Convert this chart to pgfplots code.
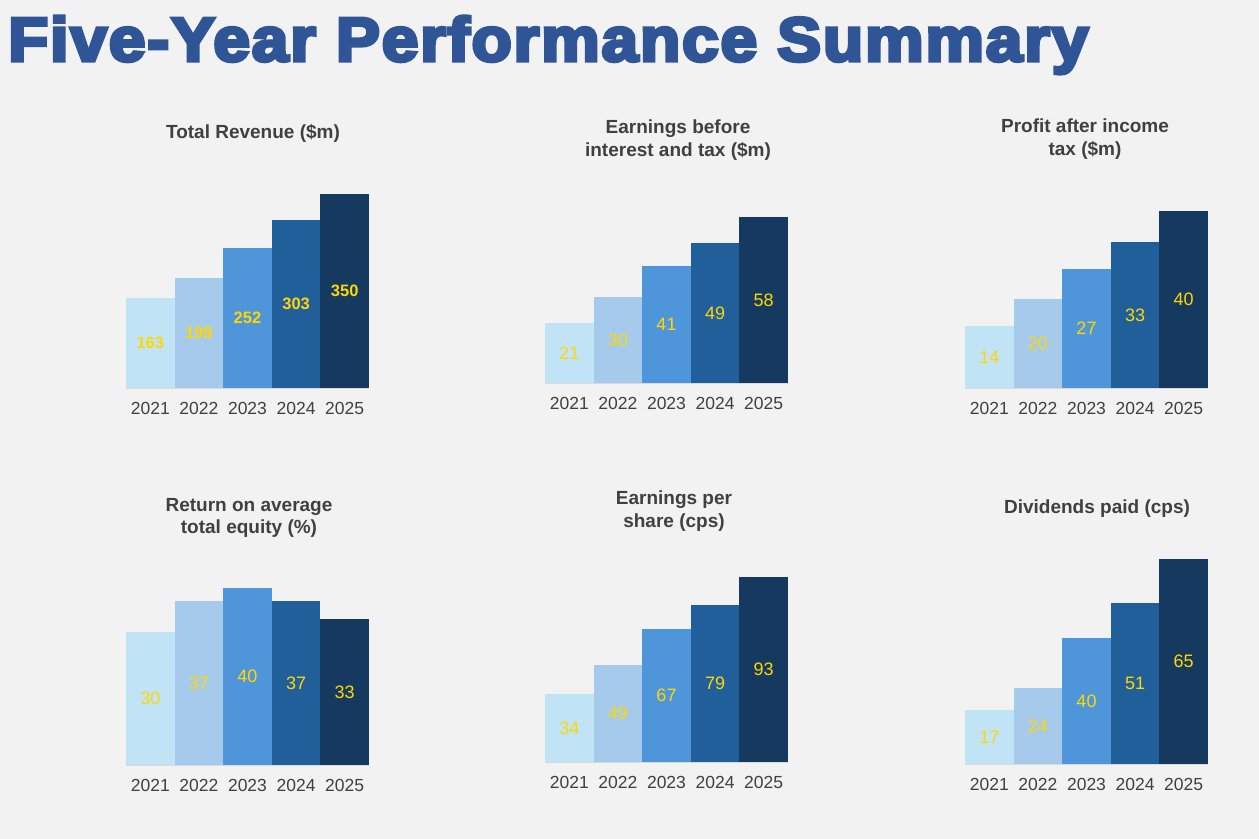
\documentclass[border=0pt]{standalone}
\usepackage{pgfplots}
\pgfplotsset{compat=1.18}
\usepackage{fontspec}
\setmainfont{Liberation Sans}
\newfontfamily\titlefont{Liberation Sans}[BoldFeatures={FakeBold=5.5, LetterSpace=3}]

\definecolor{bg}{HTML}{F2F2F2}
\definecolor{headblue}{HTML}{2F5597}
\definecolor{txtgray}{HTML}{404040}
\definecolor{axisgray}{HTML}{D9D9D9}
\definecolor{gold}{HTML}{FFD700}
\definecolor{c1}{HTML}{C0E4F5}
\definecolor{c2}{HTML}{A6CAEC}
\definecolor{c3}{HTML}{4E95D9}
\definecolor{c4}{HTML}{215F9A}
\definecolor{c5}{HTML}{163A5F}

\pgfplotsset{
  minibar/.style={
    scale only axis, width=243bp,
    anchor=south west,
    ybar, bar width=1,
    xmin=-0.5, xmax=4.5, ymin=0,
    axis x line*=bottom, axis y line=none,
    x axis line style={draw=axisgray, line width=1.5bp},
    xtick={0,1,2,3,4},
    xticklabels={2021,2022,2023,2024,2025},
    major tick length=0pt,
    /pgf/number format/assume math mode=true,
    xticklabel style={font=\fontsize{17.5bp}{20bp}\selectfont, text=txtgray, yshift=-10.5bp},
    every axis plot/.append style={draw=none, bar shift=0pt},
    nodes near coords={\pgfmathprintnumber[assume math mode=true]{\pgfplotspointmeta}},
    visualization depends on=y \as \rawy,
    nodes near coords style={anchor=center, text=gold,
      font=\fontsize{18bp}{20bp}\selectfont,
      shift={(axis direction cs:0,-\rawy/2)}},
  },
}

% one bar per year, each in its own colour
\newcommand{\fivebars}[5]{%
  \addplot[fill=c1] coordinates {(0,#1)};
  \addplot[fill=c2] coordinates {(1,#2)};
  \addplot[fill=c3] coordinates {(2,#3)};
  \addplot[fill=c4] coordinates {(3,#4)};
  \addplot[fill=c5] coordinates {(4,#5)};
}

\tikzset{ctitle/.style={align=center, text=txtgray,
  font=\bfseries\fontsize{19bp}{22.5bp}\selectfont}}

\begin{document}
\begin{tikzpicture}
\path[use as bounding box] (0,0) rectangle (1259bp,839bp);
\fill[bg] (0,0) rectangle (1259bp,839bp);

\node[anchor=base west, inner sep=0, text=headblue] at (8bp,778bp)
  {\resizebox{1080bp}{45bp}{\titlefont\bfseries Five-Year Performance Summary}};

% top row
\begin{axis}[minibar, at={(126bp,451bp)}, height=194bp, ymax=350,
  nodes near coords style={font=\bfseries\fontsize{16.5bp}{20bp}\selectfont}]
\fivebars{163}{199}{252}{303}{350}
\end{axis}
\node[ctitle] at (253bp,706bp) {Total Revenue (\$m)};

\begin{axis}[minibar, at={(545bp,456bp)}, height=166bp, ymax=58]
\fivebars{21}{30}{41}{49}{58}
\end{axis}
\node[ctitle] at (678bp,699bp) {Earnings before\\interest and tax (\$m)};

\begin{axis}[minibar, at={(965bp,451bp)}, height=177bp, ymax=40]
\fivebars{14}{20}{27}{33}{40}
\end{axis}
\node[ctitle] at (1085bp,700bp) {Profit after income\\tax (\$m)};

% bottom row
\begin{axis}[minibar, at={(126bp,74bp)}, height=177bp, ymax=40]
\fivebars{30}{37}{40}{37}{33}
\end{axis}
\node[ctitle] at (249bp,321bp) {Return on average\\total equity (\%)};

\begin{axis}[minibar, at={(545bp,77bp)}, height=185bp, ymax=93]
\fivebars{34}{49}{67}{79}{93}
\end{axis}
\node[ctitle] at (674bp,328bp) {Earnings per\\share (cps)};

\begin{axis}[minibar, at={(965bp,75bp)}, height=205bp, ymax=65]
\fivebars{17}{24}{40}{51}{65}
\end{axis}
\node[ctitle] at (1097bp,330bp) {Dividends paid (cps)};
\end{tikzpicture}
\end{document}
